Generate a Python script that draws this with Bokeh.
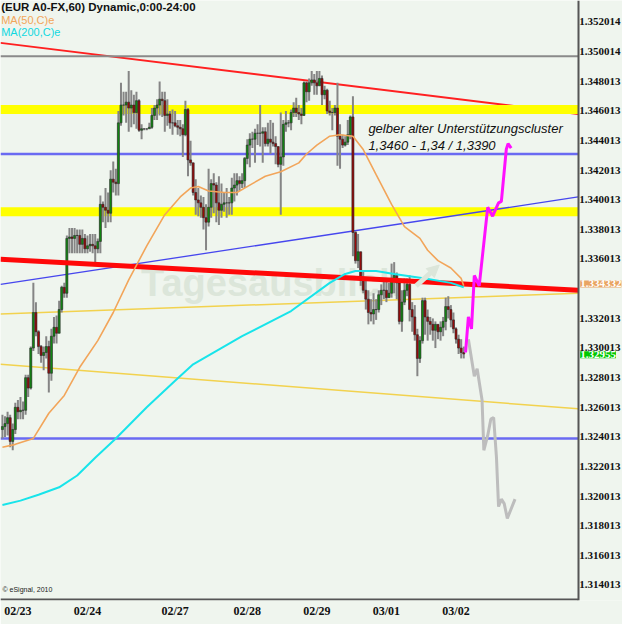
import numpy as np
from bokeh.plotting import figure
from bokeh.models import (ColumnDataSource, FixedTicker, PrintfTickFormatter, LinearAxis,
                          Range1d, Label, Arrow, NormalHead)
from bokeh.core.properties import value
from bokeh.embed import file_html
from bokeh.resources import INLINE

BG = "#eff5ee"

# ---------------- data (hourly EUR/USD candles) ----------------
first_open = 1.3245
closes = [1.3247, 1.3249, 1.3253, 1.3237, 1.3245, 1.3260, 1.3257, 1.3258, 1.3258, 1.3280,
          1.3273, 1.3300, 1.3324, 1.3311, 1.3301, 1.3295, 1.3297, 1.3301, 1.3283, 1.3308,
          1.3314, 1.3310, 1.3326, 1.3341, 1.3337, 1.3374, 1.3375, 1.3374, 1.3376, 1.3376,
          1.3370, 1.3374, 1.3367, 1.3369, 1.3370, 1.3369, 1.3367, 1.3372, 1.3397, 1.3395,
          1.3393, 1.3391, 1.3414, 1.3412, 1.3411, 1.3452, 1.3464, 1.3464, 1.3466, 1.3462,
          1.3464, 1.3459, 1.3467, 1.3447, 1.3448, 1.3448, 1.3448, 1.3449, 1.3457, 1.3462,
          1.3464, 1.3468, 1.3467, 1.3457, 1.3458, 1.3452, 1.3452, 1.3450, 1.3449, 1.3448,
          1.3444, 1.3461, 1.3427, 1.3425, 1.3405, 1.3400, 1.3398, 1.3395, 1.3388, 1.3385,
          1.3395, 1.3411, 1.3410, 1.3398, 1.3393, 1.3397, 1.3398, 1.3398, 1.3398, 1.3408,
          1.3410, 1.3413, 1.3411, 1.3413, 1.3428, 1.3437, 1.3441, 1.3441, 1.3445, 1.3445,
          1.3445, 1.3446, 1.3438, 1.3441, 1.3439, 1.3438, 1.3436, 1.3424, 1.3429, 1.3451,
          1.3452, 1.3452, 1.3459, 1.3462, 1.3459, 1.3458, 1.3457, 1.3479, 1.3473, 1.3479,
          1.3481, 1.3479, 1.3477, 1.3482, 1.3471, 1.3474, 1.3460, 1.3459, 1.3459, 1.3462,
          1.3443, 1.3441, 1.3437, 1.3439, 1.3444, 1.3456, 1.3378, 1.3359, 1.3365, 1.3346,
          1.3339, 1.3333, 1.3324, 1.3323, 1.3326, 1.3326, 1.3336, 1.3339, 1.3339, 1.3334,
          1.3337, 1.3347, 1.3349, 1.3344, 1.3318, 1.3331, 1.3339, 1.3343, 1.3326, 1.3321,
          1.3309, 1.3293, 1.3305, 1.3332, 1.3321, 1.3318, 1.3316, 1.3312, 1.3316, 1.3311,
          1.3314, 1.3318, 1.3328, 1.3326, 1.3319, 1.3313, 1.3306, 1.3300, 1.3297, 1.3296]
highs = [1.3255, 1.3254, 1.3257, 1.3255, 1.3249, 1.3263, 1.3265, 1.3267, 1.3264, 1.3282,
         1.3282, 1.3301, 1.3344, 1.3331, 1.3312, 1.3302, 1.3301, 1.3308, 1.3305, 1.3313,
         1.3321, 1.3322, 1.3332, 1.3342, 1.3344, 1.3376, 1.3381, 1.3381, 1.3381, 1.3380,
         1.3380, 1.3380, 1.3377, 1.3376, 1.3377, 1.3377, 1.3377, 1.3374, 1.3403, 1.3399,
         1.3408, 1.3405, 1.3420, 1.3426, 1.3421, 1.3460, 1.3479, 1.3473, 1.3473, 1.3487,
         1.3474, 1.3471, 1.3473, 1.3468, 1.3451, 1.3448, 1.3448, 1.3452, 1.3462, 1.3464,
         1.3468, 1.3480, 1.3473, 1.3473, 1.3468, 1.3460, 1.3461, 1.3460, 1.3454, 1.3454,
         1.3451, 1.3467, 1.3462, 1.3440, 1.3425, 1.3414, 1.3408, 1.3403, 1.3402, 1.3397,
         1.3421, 1.3414, 1.3418, 1.3412, 1.3416, 1.3411, 1.3405, 1.3408, 1.3402, 1.3415,
         1.3418, 1.3418, 1.3416, 1.3418, 1.3429, 1.3441, 1.3445, 1.3446, 1.3448, 1.3451,
         1.3464, 1.3449, 1.3449, 1.3452, 1.3454, 1.3452, 1.3443, 1.3433, 1.3459, 1.3454,
         1.3460, 1.3454, 1.3461, 1.3466, 1.3469, 1.3464, 1.3462, 1.3480, 1.3480, 1.3482,
         1.3487, 1.3485, 1.3487, 1.3487, 1.3484, 1.3477, 1.3475, 1.3467, 1.3462, 1.3464,
         1.3479, 1.3451, 1.3444, 1.3443, 1.3454, 1.3457, 1.3470, 1.3379, 1.3377, 1.3360,
         1.3352, 1.3347, 1.3339, 1.3333, 1.3337, 1.3333, 1.3339, 1.3343, 1.3346, 1.3346,
         1.3344, 1.3357, 1.3358, 1.3351, 1.3346, 1.3339, 1.3347, 1.3347, 1.3349, 1.3331,
         1.3329, 1.3313, 1.3308, 1.3334, 1.3334, 1.3326, 1.3321, 1.3320, 1.3318, 1.3316,
         1.3318, 1.3321, 1.3334, 1.3335, 1.3329, 1.3324, 1.3314, 1.3309, 1.3306, 1.3301]
lows = [1.3239, 1.3240, 1.3241, 1.3233, 1.3231, 1.3242, 1.3252, 1.3252, 1.3252, 1.3255,
        1.3267, 1.3272, 1.3298, 1.3308, 1.3296, 1.3290, 1.3285, 1.3293, 1.3270, 1.3278,
        1.3303, 1.3303, 1.3310, 1.3324, 1.3334, 1.3334, 1.3364, 1.3364, 1.3364, 1.3364,
        1.3364, 1.3364, 1.3364, 1.3364, 1.3365, 1.3364, 1.3356, 1.3364, 1.3364, 1.3385,
        1.3381, 1.3385, 1.3385, 1.3405, 1.3403, 1.3403, 1.3450, 1.3457, 1.3452, 1.3446,
        1.3449, 1.3451, 1.3448, 1.3446, 1.3441, 1.3447, 1.3447, 1.3448, 1.3448, 1.3454,
        1.3454, 1.3457, 1.3456, 1.3446, 1.3450, 1.3448, 1.3444, 1.3449, 1.3444, 1.3443,
        1.3429, 1.3443, 1.3416, 1.3423, 1.3403, 1.3390, 1.3389, 1.3388, 1.3380, 1.3366,
        1.3382, 1.3388, 1.3391, 1.3385, 1.3383, 1.3388, 1.3392, 1.3388, 1.3390, 1.3390,
        1.3399, 1.3403, 1.3406, 1.3408, 1.3408, 1.3424, 1.3422, 1.3435, 1.3425, 1.3437,
        1.3436, 1.3425, 1.3436, 1.3436, 1.3431, 1.3436, 1.3424, 1.3422, 1.3390, 1.3423,
        1.3446, 1.3449, 1.3447, 1.3456, 1.3456, 1.3454, 1.3451, 1.3458, 1.3466, 1.3467,
        1.3477, 1.3471, 1.3471, 1.3477, 1.3464, 1.3468, 1.3458, 1.3457, 1.3447, 1.3457,
        1.3423, 1.3421, 1.3435, 1.3436, 1.3437, 1.3441, 1.3362, 1.3357, 1.3354, 1.3342,
        1.3337, 1.3326, 1.3316, 1.3318, 1.3316, 1.3319, 1.3324, 1.3329, 1.3333, 1.3331,
        1.3334, 1.3334, 1.3337, 1.3333, 1.3316, 1.3311, 1.3329, 1.3335, 1.3318, 1.3311,
        1.3305, 1.3281, 1.3290, 1.3303, 1.3309, 1.3305, 1.3309, 1.3305, 1.3300, 1.3306,
        1.3305, 1.3308, 1.3312, 1.3320, 1.3314, 1.3310, 1.3303, 1.3296, 1.3293, 1.3293]

day_labels = ["02/23", "02/24", "02/27", "02/28", "02/29", "03/01", "03/02"]
day_start = [2, 29, 63, 91, 118, 145, 172]

price_ticks = [1.314013, 1.316013, 1.318013, 1.320013, 1.322013, 1.324013, 1.326013,
               1.328013, 1.330013, 1.332013, 1.336013, 1.338013, 1.340013, 1.342013,
               1.344013, 1.346013, 1.348013, 1.350014, 1.352014]

ma50_x = [0, 5, 12, 18, 24, 30, 37, 43, 49, 56, 63, 69, 73, 76, 80, 86, 91, 97, 102, 108,
          115, 118, 122, 127, 131, 136, 140, 145, 151, 156, 162, 165, 169, 174, 178, 179]
ma50_v = [1.3233, 1.3235, 1.3239, 1.3256, 1.3268, 1.3287, 1.3305, 1.3324, 1.3346, 1.3369,
          1.3390, 1.3402, 1.3408, 1.3409, 1.3406, 1.3405, 1.3405, 1.3411, 1.3416, 1.3419,
          1.3425, 1.3431, 1.3437, 1.3443, 1.3444, 1.3443, 1.3434, 1.3417, 1.3397, 1.3382,
          1.3374, 1.3366, 1.3359, 1.3354, 1.3347, 1.3342]
ma200_x = [0, 7, 14, 22, 29, 36, 44, 56, 67, 74, 93, 112, 127, 133, 137, 145, 152, 164, 174, 179]
ma200_v = [1.3194, 1.3197, 1.3201, 1.3206, 1.3214, 1.3226, 1.3239, 1.3260, 1.3278, 1.3289,
           1.3308, 1.3325, 1.3344, 1.3350, 1.3352, 1.3352, 1.3350, 1.3347, 1.3344, 1.3341]

proj_up_x = [179.7, 180.8, 182.0, 183.1, 185.0, 188.3, 190.2, 192.5, 193.6, 195.5, 196.2, 197.4]
proj_up_v = [1.3297, 1.3321, 1.3313, 1.3349, 1.3342, 1.3395, 1.3389, 1.3398, 1.3399, 1.3434, 1.3438, 1.3435]
proj_dn_x = [180.8, 183.1, 184.2, 186.1, 186.8, 188.3, 189.5, 190.6, 191.7, 192.5, 193.6, 194.7, 195.9, 198.9]
proj_dn_v = [1.3306, 1.3281, 1.3286, 1.3265, 1.3231, 1.3241, 1.3252, 1.3253, 1.3226, 1.3193,
             1.3198, 1.3195, 1.3185, 1.3198]

support_bands = [(1.3458, 1.3464), (1.3389, 1.3395)]
blue_levels = [1.3431, 1.3239]
gray_level = 1.3497
# trend lines: (start price, end price) across the chart width
red_thin = (1.3506, 1.3458)
red_thick = (1.3360, 1.3339)
blue_trend = (1.3343, 1.3402)
yellow_up = (1.3323, 1.3337)
yellow_dn = (1.3289, 1.3259)

last_price = 1.32955
marker_price = 1.334332

# ---------------- figure ----------------
X0, XA = -0.75, 223.4          # chart area: left edge, price-axis position
X1 = 240.6                     # includes the price-label strip
Y0, Y1 = 1.31296, 1.35346

p = figure(width=622, height=624, x_range=Range1d(X0, X1), y_range=Range1d(Y0, Y1),
           y_axis_location=None, output_backend="svg", toolbar_location=None,
           min_border_left=0, min_border_top=0, min_border_right=0, min_border_bottom=24,
           background_fill_color=BG, border_fill_color=BG, outline_line_color=None)
p.grid.visible = False

# watermark
p.text(x=[53.8], y=[1.3344], text=["Tagesausblick"], text_font=value("Liberation Sans"),
       text_font_size=value("38px"), text_font_style="bold", text_color="#dce6da",
       text_baseline="middle")
p.add_layout(Arrow(x_start=160.5, y_start=1.3342, x_end=169.5, y_end=1.3356, line_color="#dce6da",
                   line_width=5, end=NormalHead(size=12, fill_color="#dce6da", line_color="#dce6da")))

# thin red downtrend (under the bands)
p.line([X0, XA], list(red_thin), line_color="#ff2020", line_width=2)

for lo_b, hi_b in support_bands:
    p.quad(left=X0, right=XA, bottom=lo_b, top=hi_b, fill_color="#ffff00", line_color=None)

p.line([X0, XA], [gray_level, gray_level], line_color="#8a8a8a", line_width=2)
for lv in blue_levels:
    p.line([X0, XA], [lv, lv], line_color="#6a6af2", line_width=2.5)
p.line([X0, XA], list(blue_trend), line_color="#4646ee", line_width=1.3)
p.line([X0, XA], list(yellow_up), line_color="#f2d24e", line_width=1.5)
p.line([X0, XA], list(yellow_dn), line_color="#f2d24e", line_width=1.5)

# candles
opens = [first_open] + closes[:-1]
xs = list(range(len(closes)))
hi_ = [max(h, o, c) for h, o, c in zip(highs, opens, closes)]
lo_ = [min(l, o, c) for l, o, c in zip(lows, opens, closes)]
src = ColumnDataSource(dict(
    x=xs, h=hi_, l=lo_,
    top=[max(o, c) for o, c in zip(opens, closes)],
    bottom=[min(o, c) for o, c in zip(opens, closes)],
    color=["#118a11" if c >= o else "#9a0a0a" for o, c in zip(opens, closes)]))
p.segment(x0="x", y0="l", x1="x", y1="h", source=src, line_color="#858585", line_width=2)
p.vbar(x="x", top="top", bottom="bottom", width=0.8, source=src,
       fill_color="color", line_color="#2a2a2a", line_width=0.6)

p.line([X0, XA], list(red_thick), line_color="#ff0808", line_width=5)

p.line(ma50_x, ma50_v, line_color="#f2a55a", line_width=1.6)
p.line(ma200_x, ma200_v, line_color="#18e4ea", line_width=2)

p.line(proj_dn_x, proj_dn_v, line_color="#bdbdbd", line_width=3)
p.line(proj_up_x, proj_up_v, line_color="#ff10ff", line_width=3)

# bottom frame line of the chart area
p.line([X0, XA], [Y0 + 0.00007, Y0 + 0.00007], line_color="#555555", line_width=2)

# texts
p.text(x=[-0.5], y=[1.3534], text=["(EUR A0-FX,60) Dynamic,0:00-24:00"],
       text_font=value("Liberation Sans"), text_font_size=value("11.5px"), text_font_style="bold",
       text_color="#111111", text_baseline="top")
p.text(x=[-0.5], y=[1.35255], text=["MA(50,C)e"], text_font=value("Liberation Sans"),
       text_font_size=value("11px"), text_color="#f2a55a", text_baseline="top")
p.text(x=[-0.5], y=[1.35176], text=["MA(200,C)e"], text_font=value("Liberation Sans"),
       text_font_size=value("11px"), text_color="#10d8e0", text_baseline="top")
p.text(x=[142, 142], y=[1.34535, 1.34418], text=["gelber alter Unterstützungscluster",
                                               "1,3460 - 1,34 / 1,3390"],
       text_font=value("Liberation Sans"), text_font_size=value("13px"), text_font_style="italic",
       text_color="#111111", text_baseline="top")
p.text(x=[0], y=[1.3137], text=["© eSignal, 2010"], text_font=value("Liberation Sans"),
       text_font_size=value("7px"), text_color="#222222", text_baseline="middle")

# price axis drawn at the right edge of the chart area
ya = LinearAxis(fixed_location=XA)
ya.ticker = FixedTicker(ticks=price_ticks)
ya.formatter = PrintfTickFormatter(format="%.6f")
ya.axis_line_color = "#555555"
ya.axis_line_width = 2
ya.major_tick_line_color = None
ya.minor_tick_line_color = None
ya.major_tick_out = 0
ya.major_tick_in = 0
ya.major_label_standoff = 1
ya.major_label_text_font = "Liberation Sans Narrow"
ya.major_label_text_font_size = "11px"
ya.major_label_text_font_style = "bold"
ya.major_label_text_color = "#111111"
p.add_layout(ya, "right")

# axis price boxes
for pr, txt, col in [(marker_price, f"{marker_price:.6f}", "#e9a462"),
                     (last_price, f"{last_price:.5f}", "#00c800")]:
    lab = Label(x=XA, y=pr, x_offset=2, text=txt, text_color="white",
                background_fill_color=col, text_font="Liberation Sans Narrow",
                text_font_size="11px", text_font_style="bold", text_baseline="middle",
                level="overlay")
    p.add_layout(lab)

xa = p.xaxis[0]
label_pos = [d + 4 for d in day_start]
xa.ticker = FixedTicker(ticks=label_pos)
xa.major_label_overrides = {d: lab for d, lab in zip(label_pos, day_labels)}
xa.axis_line_color = None
xa.major_tick_line_color = None
xa.minor_tick_line_color = None
xa.major_tick_out = 0
xa.major_tick_in = 0
xa.major_label_standoff = 3
xa.major_label_text_font = "Liberation Sans Narrow"
xa.major_label_text_font_size = "12px"
xa.major_label_text_font_style = "bold"
xa.major_label_text_color = "#111111"

open("out.html", "w").write(file_html(p, INLINE))
